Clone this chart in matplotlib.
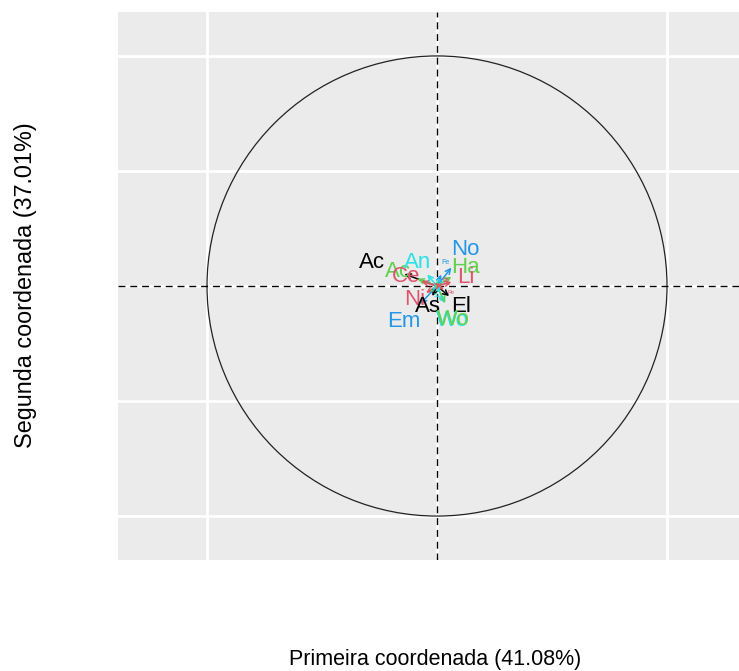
import numpy as np
import matplotlib
matplotlib.use("Agg")
import matplotlib.pyplot as plt
from matplotlib.patches import Circle

plt.rcParams['font.family'] = ['Liberation Sans', 'DejaVu Sans']

# Variable loadings on the first two coordinates (label positions)
var_names = ["Ac", "Ac", "Ce", "An", "No", "Ha", "Li", "Ni", "As", "El", "Em", "Wo", "Wo",
             "Fe", "Ma", "Pe", "Re", "Sa", "Ta", "Ve", "Ro"]
var_x = [-0.283, -0.170, -0.135, -0.085, 0.125, 0.125, 0.125, -0.095, -0.040, 0.105, -0.145, 0.068, 0.072,
         0.035, 0.010, 0.040, 0.060, 0.000, 0.020, -0.020, 0.045]
var_y = [0.104, 0.062, 0.040, 0.100, 0.160, 0.080, 0.035, -0.060, -0.088, -0.088, -0.155, -0.150, -0.147,
         0.100, 0.020, 0.030, -0.030, -0.040, -0.060, -0.020, 0.010]
var_colors = ["black", "#61D04F", "#DF536B", "#28E2E5", "#2297E6", "#61D04F", "#DF536B", "#DF536B", "black",
              "black", "#2297E6", "#28E2E5", "#61D04F",
              "#2297E6", "#28E2E5", "#DF536B", "#DF536B", "#28E2E5", "#28E2E5", "#61D04F", "#DF536B"]
label_sizes = [16, 16, 16, 16, 16, 16, 16, 16, 16, 16, 16, 16, 16,
               5, 4, 4, 4, 4, 5, 4, 4]

x_title = "Primeira coordenada (41.08%)"
y_title = "Segunda coordenada (37.01%)"

W, H = 739, 671
fig = plt.figure(figsize=(W / 100, H / 100), dpi=100)
ax = fig.add_axes([118 / W, (H - 560) / H, (W - 118) / W, 548 / H])
ax.set_facecolor("#EBEBEB")
ax.set_xlim(-1.387, 1.313)
ax.set_ylim(-1.191, 1.191)

ax.set_xticks([-1, 0, 1])
ax.set_yticks([-1, -0.5, 0, 0.5, 1])
ax.grid(True, color="white", lw=2)
ax.set_axisbelow(True)
ax.tick_params(length=0, labelbottom=False, labelleft=False)
for s in ax.spines.values():
    s.set_visible(False)

# Correlation circle
ax.add_patch(Circle((0, 0), 1, fill=False, ec="#222222", lw=0.9, zorder=2))
ax.axhline(0, color="black", lw=1.0, ls=(0, (5, 3.5)), zorder=3)
ax.axvline(0, color="black", lw=1.0, ls=(0, (5, 3.5)), zorder=3)

# Arrows from the origin and variable labels
arrow_frac = 0.5
for name, x, y, c, s in zip(var_names, var_x, var_y, var_colors, label_sizes):
    ax.annotate("", xy=(x * arrow_frac, y * arrow_frac), xytext=(0, 0),
                arrowprops=dict(arrowstyle="->", color=c, lw=1.1,
                                mutation_scale=9, shrinkA=0, shrinkB=0),
                zorder=4)
    ax.text(x, y, name, color=c, fontsize=s, ha="center", va="center", zorder=5)

fig.text(435 / W, 1 - 660 / H, x_title, fontsize=15.5, ha="center", va="center")
fig.text(26 / W, 1 - 285 / H, y_title, fontsize=16.8, ha="center", va="center",
         rotation=90)

fig.savefig("out.png", dpi=100)
